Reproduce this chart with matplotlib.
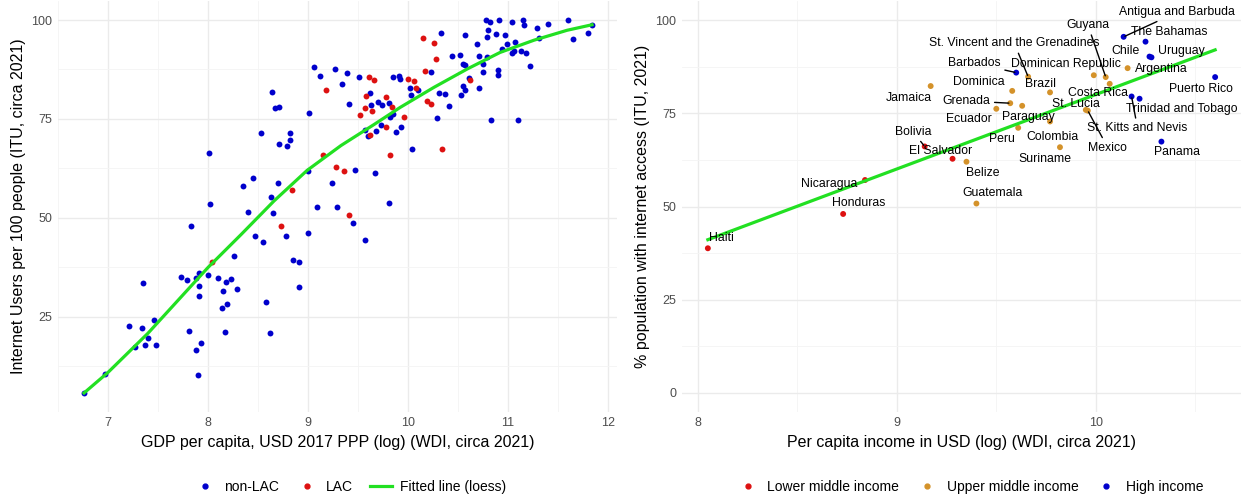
import numpy as np
import matplotlib
matplotlib.use("Agg")
import matplotlib.pyplot as plt
from matplotlib.lines import Line2D

plt.rcParams['font.family'] = ['Liberation Sans', 'DejaVu Sans']

# ---- left panel data: log GDP per capita vs internet users ----
nonlac_x = [9.059, 9.116, 8.644, 8.667, 8.714, 9.009, 8.527, 8.819, 8.819, 8.707,
            8.786, 8.008, 9.003, 8.354, 8.447, 8.697, 8.634, 8.018, 8.400, 8.647,
            9.086, 7.831, 8.467, 8.547, 8.783, 9.003, 8.264, 8.853, 8.909, 8.913,
            7.729, 7.785, 7.905, 7.881, 7.995, 7.905, 7.905, 8.095, 8.181, 8.225,
            8.148, 8.294, 7.349, 8.185, 8.138, 8.584, 7.456, 7.210, 7.336, 7.808,
            8.171, 8.624, 7.402, 7.269, 7.372, 7.476, 7.928, 7.878, 7.898, 6.967,
            6.760, 9.445, 9.575, 10.782, 10.822, 10.912, 11.039, 11.149, 11.162, 11.291,
            11.404, 11.604, 11.843, 11.800, 11.654, 11.314, 10.330, 10.573, 10.799, 10.882,
            10.969, 10.785, 10.690, 10.989, 11.065, 10.939, 11.039, 11.059, 11.125, 11.179,
            11.215, 10.436, 10.520, 10.546, 10.566, 10.713, 10.792, 10.752, 10.749, 10.895,
            10.902, 10.613, 10.550, 10.570, 10.530, 10.710, 10.825, 11.099, 9.272, 9.385,
            9.338, 9.508, 9.851, 9.911, 9.924, 10.231, 10.024, 10.031, 10.104, 10.310,
            10.370, 10.413, 10.293, 9.618, 9.625, 9.702, 9.742, 9.807, 9.854, 9.824,
            9.408, 9.565, 9.678, 9.725, 9.931, 9.884, 9.598, 10.037, 9.472, 9.668,
            9.236, 9.292, 9.811]
nonlac_y = [88.06, 85.86, 81.74, 77.85, 78.11, 76.52, 71.54, 71.54, 69.70, 68.76,
            68.18, 66.34, 61.87, 58.00, 60.10, 58.76, 55.30, 53.61, 51.59, 51.19,
            52.70, 47.98, 45.53, 43.94, 45.38, 46.21, 40.33, 39.39, 38.89, 32.58,
            35.10, 34.34, 36.04, 34.93, 35.61, 32.90, 30.38, 34.77, 33.84, 34.60,
            31.64, 31.99, 33.59, 28.28, 27.27, 28.71, 24.32, 22.80, 22.30, 21.54,
            21.21, 20.96, 19.70, 17.35, 17.93, 17.85, 18.36, 16.67, 10.35, 10.53,
            5.81, 48.81, 44.37, 99.92, 99.57, 99.92, 99.57, 99.92, 98.81, 97.98,
            98.99, 99.92, 98.66, 96.79, 95.13, 95.53, 96.72, 96.29, 97.47, 96.54,
            96.21, 95.78, 93.86, 93.86, 94.52, 92.68, 91.59, 92.25, 92.17, 91.67,
            88.38, 90.83, 91.16, 88.96, 88.71, 90.91, 90.58, 88.89, 86.87, 87.45,
            86.04, 85.28, 83.41, 82.25, 81.14, 82.83, 74.75, 74.75, 87.55, 86.54,
            83.84, 85.53, 85.68, 85.86, 85.10, 86.79, 82.90, 81.06, 82.25, 81.49,
            81.24, 78.36, 75.18, 81.49, 78.46, 79.29, 78.46, 79.12, 76.26, 75.58,
            78.86, 72.22, 71.97, 73.41, 72.98, 71.72, 70.71, 67.50, 62.05, 61.29,
            58.84, 52.85, 53.86]

lac_x = [10.154, 10.263, 10.283, 10.174, 10.616, 9.176, 9.605, 9.665, 9.997, 10.057,
         10.077, 9.582, 9.784, 9.572, 9.642, 9.837, 9.515, 9.961, 10.187, 10.234,
         9.781, 9.618, 9.824, 10.343, 9.146, 9.282, 9.358, 9.408, 8.836, 8.734,
         8.041]
lac_y = [95.53, 94.19, 90.08, 87.05, 84.77, 82.32, 85.68, 84.77, 85.18, 84.67,
         82.75, 80.81, 80.56, 77.70, 76.94, 78.03, 76.09, 75.51, 79.47, 78.86,
         72.98, 71.04, 65.91, 67.42, 65.91, 62.80, 61.94, 50.76, 57.07, 48.06,
         38.89]

# loess curve
loess_x = [6.76, 7.00, 7.40, 8.00, 8.33, 8.66, 8.99, 9.33, 9.66, 9.92,
           10.26, 10.59, 10.92, 11.26, 11.59, 11.84]
loess_y = [5.8, 11.0, 20.9, 37.5, 45.8, 54.3, 62.0, 68.3, 73.6, 77.9,
           83.0, 87.6, 91.8, 94.9, 97.4, 98.8]

# ---- right panel data: LAC countries ----
countries = ["Haiti", "Honduras", "Nicaragua", "Bolivia", "El Salvador",
             "Belize", "Guatemala", "Jamaica", "Ecuador", "Grenada", "Dominica",
             "St. Vincent and the Grenadines", "Paraguay", "Peru", "Brazil",
             "Colombia", "Suriname", "Dominican Republic", "Guyana", "Costa Rica",
             "St. Lucia", "Mexico", "Argentina",
             "Barbados", "Antigua and Barbuda", "The Bahamas", "Chile", "Uruguay",
             "St. Kitts and Nevis", "Trinidad and Tobago", "Panama", "Puerto Rico"]
income_group = ["Lower middle income"] * 5 + ["Upper middle income"] * 18 + ["High income"] * 9
income_x = [8.05, 8.73, 8.84, 9.14, 9.28,
            9.35, 9.40, 9.17, 9.50, 9.57, 9.58,
            9.66, 9.63, 9.61, 9.77,
            9.77, 9.82, 9.99, 10.05, 10.07,
            9.95, 9.96, 10.16,
            9.60, 10.14, 10.25, 10.27, 10.28,
            10.18, 10.22, 10.33, 10.60]
internet_y = [38.8, 48.0, 57.1, 66.1, 62.8,
              62.0, 50.8, 82.3, 76.2, 77.7, 81.0,
              84.8, 77.0, 71.1, 80.6,
              72.8, 65.9, 85.2, 84.7, 82.9,
              75.9, 75.7, 87.1,
              85.9, 95.5, 94.2, 90.2, 90.0,
              79.5, 78.9, 67.4, 84.7]

# linear fit (end points)
lm_x = [8.05, 10.60]
lm_y = [41.1, 92.0]

# label placement (ggrepel-like), and which labels get a leader segment
label_pos = {
    "Haiti": (8.12, 41.6), "Honduras": (8.81, 50.9), "Nicaragua": (8.66, 56.1),
    "Bolivia": (9.08, 70.1), "El Salvador": (9.22, 65.0), "Belize": (9.43, 58.9),
    "Guatemala": (9.48, 53.6), "Jamaica": (9.06, 79.2), "Ecuador": (9.36, 73.4),
    "Grenada": (9.35, 78.3), "Dominica": (9.41, 83.5),
    "St. Vincent and the Grenadines": (9.59, 93.8), "Paraguay": (9.66, 73.9),
    "Peru": (9.53, 68.0), "Brazil": (9.72, 82.8), "Colombia": (9.78, 68.7),
    "Suriname": (9.745, 62.8), "Dominican Republic": (9.85, 88.1),
    "Guyana": (9.96, 98.7), "Costa Rica": (10.01, 80.4), "St. Lucia": (9.90, 77.4),
    "Mexico": (10.06, 65.8), "Argentina": (10.33, 86.8), "Barbados": (9.39, 88.4),
    "Antigua and Barbuda": (10.41, 102.1), "The Bahamas": (10.37, 96.9),
    "Chile": (10.15, 91.8), "Uruguay": (10.43, 91.8),
    "St. Kitts and Nevis": (10.21, 71.0), "Trinidad and Tobago": (10.43, 76.1),
    "Panama": (10.41, 64.5), "Puerto Rico": (10.53, 81.6),
}
leaders = ["Bolivia", "Grenada", "St. Vincent and the Grenadines", "Guyana",
           "Barbados", "Antigua and Barbuda", "St. Kitts and Nevis", "Mexico"]

group_colors = {"Lower middle income": "#DD1111",
                "Upper middle income": "#D4922A",
                "High income": "#0000CC"}
BLUE = "#0000CC"
RED = "#DD1111"
GREEN = "#22E022"
GRID_MAJOR = "#EBEBEB"
GRID_MINOR = "#F4F4F4"
TICK_COL = "#4D4D4D"


def style_axis(ax):
    for s in ax.spines.values():
        s.set_visible(False)
    ax.grid(True, which="major", color=GRID_MAJOR, lw=1.0)
    ax.grid(True, which="minor", color=GRID_MINOR, lw=0.6)
    ax.set_axisbelow(True)
    ax.tick_params(which="both", length=0, labelsize=9, labelcolor=TICK_COL, pad=4)


fig = plt.figure(figsize=(12.5, 4.97), dpi=100)

# ---------- left panel ----------
ax1 = fig.add_axes([0.0464, 0.1718, 0.4472, 0.8254])
ax1.scatter(nonlac_x, nonlac_y, s=18, color=BLUE, linewidths=0, zorder=2)
ax1.scatter(lac_x, lac_y, s=18, color=RED, linewidths=0, zorder=2)
ax1.plot(loess_x, loess_y, color=GREEN, lw=2.3, zorder=3, solid_joinstyle="round")
ax1.set_xlim(6.51, 12.09)
ax1.set_ylim(1.1, 104.7)
ax1.set_xticks([7, 8, 9, 10, 11, 12])
ax1.set_xticks([6.5, 7.5, 8.5, 9.5, 10.5, 11.5], minor=True)
ax1.set_yticks([25, 50, 75, 100])
ax1.set_yticks([12.5, 37.5, 62.5, 87.5], minor=True)
style_axis(ax1)
ax1.set_xlabel("GDP per capita, USD 2017 PPP (log) (WDI, circa 2021)", fontsize=11.5, labelpad=4)
ax1.set_ylabel("Internet Users per 100 people (ITU, circa 2021)", fontsize=11.5, labelpad=4)

# ---------- right panel ----------
ax2 = fig.add_axes([0.5456, 0.1718, 0.4472, 0.8254])
pt_colors = [group_colors[g] for g in income_group]
ax2.scatter(income_x, internet_y, s=18, c=pt_colors, linewidths=0, zorder=2)
ax2.plot(lm_x, lm_y, color=GREEN, lw=2.3, zorder=3)

for name, px, py in zip(countries, income_x, internet_y):
    lx, ly = label_pos[name]
    if name in leaders:
        ax2.annotate(name, xy=(px, py), xytext=(lx, ly), ha="center", va="center",
                     fontsize=8.8, zorder=4,
                     arrowprops=dict(arrowstyle="-", color="black", lw=1.0,
                                     shrinkA=1, shrinkB=1))
    else:
        ax2.text(lx, ly, name, ha="center", va="center", fontsize=8.8, zorder=4)

ax2.set_xlim(7.92, 10.73)
ax2.set_ylim(-5, 105)
ax2.set_xticks([8, 9, 10])
ax2.set_xticks([8.5, 9.5, 10.5], minor=True)
ax2.set_yticks([0, 25, 50, 75, 100])
ax2.set_yticks([12.5, 37.5, 62.5, 87.5], minor=True)
style_axis(ax2)
ax2.set_xlabel("Per capita income in USD (log) (WDI, circa 2021)", fontsize=11.5, labelpad=4)
ax2.set_ylabel("% population with internet access (ITU, 2021)", fontsize=11.5, labelpad=4)

# ---------- legends ----------
h1 = [Line2D([], [], ls="", marker="o", ms=3.5, color=BLUE),
      Line2D([], [], ls="", marker="o", ms=3.5, color=RED),
      Line2D([], [], color=GREEN, lw=2.3)]
fig.legend(h1, ["non-LAC", "LAC", "Fitted line (loess)"], loc="center",
           bbox_to_anchor=(0.28, 0.02), ncol=3, frameon=False, fontsize=10,
           handlelength=1.6, columnspacing=1.2, handletextpad=0.6)
h2 = [Line2D([], [], ls="", marker="o", ms=3.5, color=group_colors[g])
      for g in ["Lower middle income", "Upper middle income", "High income"]]
fig.legend(h2, ["Lower middle income", "Upper middle income", "High income"],
           loc="center", bbox_to_anchor=(0.776, 0.02), ncol=3, frameon=False,
           fontsize=10, handlelength=1.6, columnspacing=1.2, handletextpad=0.6)

fig.savefig("out.png", dpi=100)
